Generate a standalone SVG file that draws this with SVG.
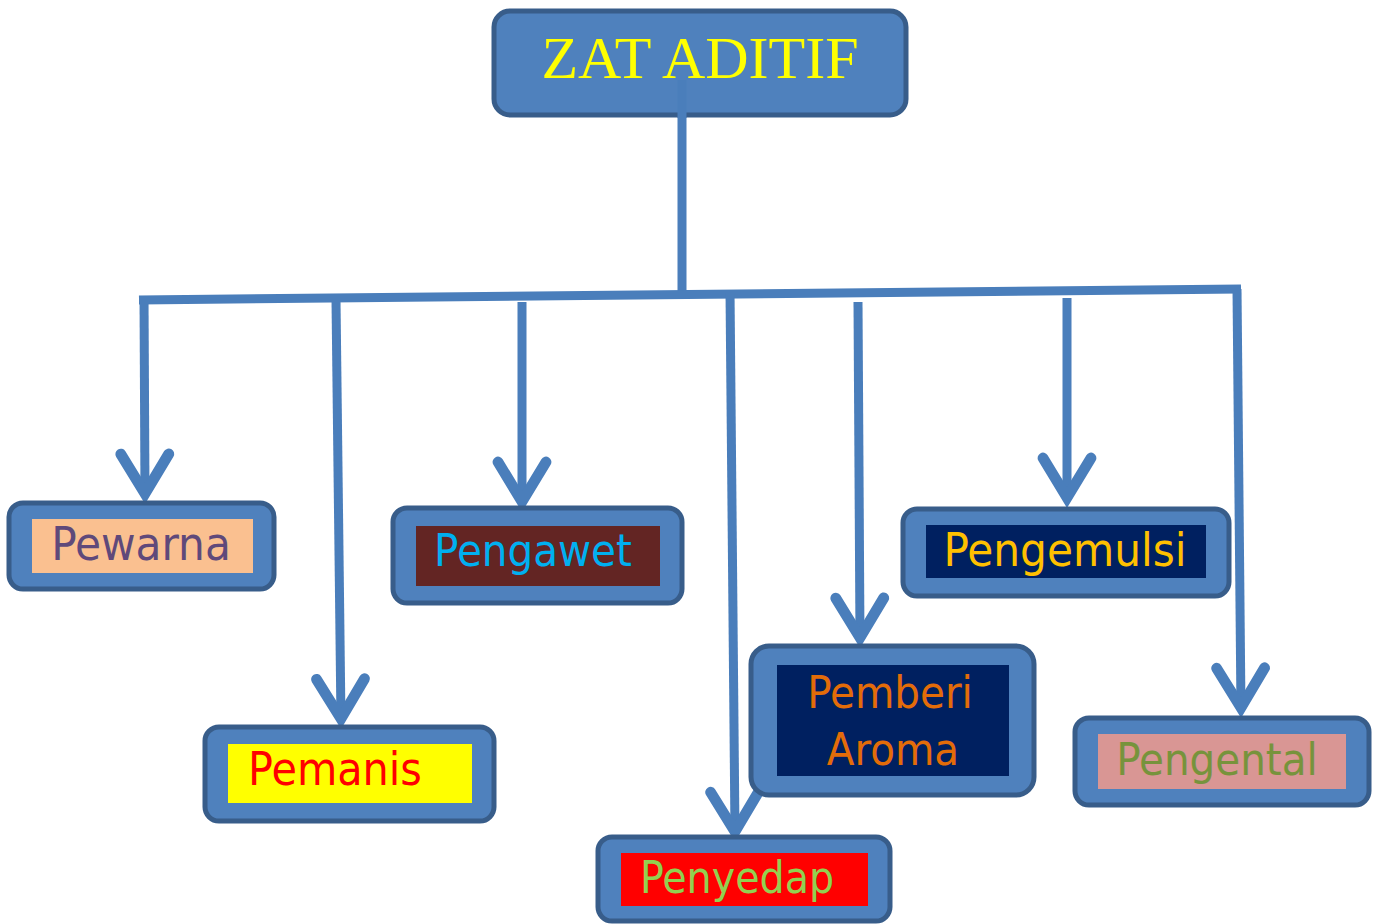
<svg xmlns="http://www.w3.org/2000/svg" width="1379" height="924" viewBox="0 0 1379 924">
<style>
.box{fill:#4F81BD;stroke:#385D8A;stroke-width:5}
.con{fill:none;stroke:#4A7EBB;stroke-width:9}
.lbl{font-family:"DejaVu Sans Condensed","DejaVu Sans",sans-serif;font-stretch:condensed;text-anchor:middle}
</style>
<defs>
<marker id="chev" markerUnits="userSpaceOnUse" orient="auto" refX="0" refY="0" markerWidth="60" markerHeight="60" viewBox="-40 -25 45 50" overflow="visible">
<path d="M-35 -20 L-2 0 L-35 20" fill="none" stroke="#4A7EBB" stroke-width="9" stroke-linecap="round" stroke-linejoin="miter"/>
</marker>
</defs>
<g id="connectors">
<line class="con" x1="682" y1="80" x2="682" y2="294"/>
<line class="con" x1="139" y1="300" x2="1241" y2="289"/>
<line class="con" x1="144" y1="296" x2="145" y2="496" marker-end="url(#chev)"/>
<line class="con" x1="336" y1="300" x2="341" y2="721" marker-end="url(#chev)"/>
<line class="con" x1="522" y1="302" x2="522" y2="504" marker-end="url(#chev)"/>
<line class="con" x1="730" y1="290" x2="735" y2="834" marker-end="url(#chev)"/>
<line class="con" x1="858" y1="302" x2="860" y2="640" marker-end="url(#chev)"/>
<line class="con" x1="1067" y1="298" x2="1067" y2="500" marker-end="url(#chev)"/>
<line class="con" x1="1237" y1="289" x2="1241" y2="710" marker-end="url(#chev)"/>
</g>
<g id="zat-aditif">
<rect class="box" x="494" y="11" width="412" height="104" rx="16"/>
<text x="700" y="78" font-family="'Liberation Serif',serif" font-size="60" fill="#FFFF00" text-anchor="middle">ZAT ADITIF</text>
</g>
<line class="con" x1="682" y1="80" x2="682" y2="118"/>
<g id="pewarna">
<rect class="box" x="9" y="503" width="265" height="86" rx="14"/>
<rect x="32" y="519" width="221" height="54" fill="#FAC090"/>
<text class="lbl" x="141" y="560" font-size="47" fill="#5F497A">Pewarna</text>
</g>
<g id="pemanis">
<rect class="box" x="205" y="727" width="289" height="94" rx="14"/>
<rect x="228" y="744" width="244" height="59" fill="#FFFF00"/>
<text class="lbl" x="335" y="785" font-size="46" fill="#FF0000">Pemanis</text>
</g>
<g id="pengawet">
<rect class="box" x="393" y="508" width="289" height="95" rx="14"/>
<rect x="416" y="526" width="244" height="60" fill="#632523"/>
<text class="lbl" x="533" y="566" font-size="45" fill="#00B0F0">Pengawet</text>
</g>
<g id="penyedap">
<rect class="box" x="598" y="837" width="292" height="84" rx="14"/>
<rect x="621" y="853" width="247" height="53" fill="#FF0000"/>
<text class="lbl" x="737" y="893" font-size="44" fill="#92D050">Penyedap</text>
</g>
<g id="pemberi-aroma">
<rect class="box" x="751" y="646" width="283" height="149" rx="18"/>
<rect x="777" y="665" width="232" height="111" fill="#002060"/>
<text class="lbl" x="890" y="708" font-size="45" fill="#E36C09">Pemberi</text>
<text class="lbl" x="893" y="765" font-size="45" fill="#E36C09">Aroma</text>
</g>
<g id="pengemulsi">
<rect class="box" x="903" y="509" width="326" height="87" rx="14"/>
<rect x="926" y="525" width="280" height="53" fill="#002060"/>
<text class="lbl" x="1065" y="566" font-size="47" fill="#FFC000">Pengemulsi</text>
</g>
<g id="pengental">
<rect class="box" x="1075" y="718" width="294" height="87" rx="14"/>
<rect x="1098" y="734" width="248" height="55" fill="#D99694"/>
<text class="lbl" x="1217" y="775" font-size="45" fill="#77933C">Pengental</text>
</g>
</svg>
